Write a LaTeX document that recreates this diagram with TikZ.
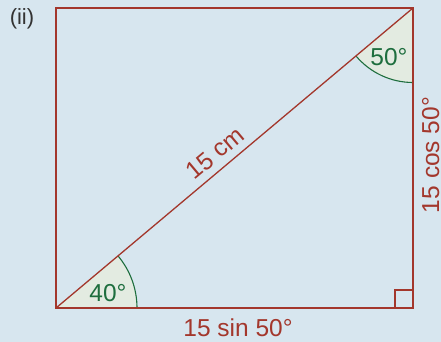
\documentclass[tikz,border=0pt]{standalone}
\usepackage{fontspec}
\setmainfont{Liberation Sans}
\definecolor{bg}{HTML}{D7E6EF}
\definecolor{linered}{HTML}{A3372C}
\definecolor{anggreen}{HTML}{1E6E3E}
\definecolor{angfill}{HTML}{E3EBE1}
\definecolor{labgray}{HTML}{333333}
\begin{document}
\begin{tikzpicture}[x=1pt,y=-1pt,
  edge/.style={draw=linered,line width=1.3pt},
  arcline/.style={draw=anggreen,line width=1.1pt},
  redlab/.style={text=linered,font=\fontsize{24.5}{28}\selectfont,inner sep=0pt},
  greenlab/.style={text=anggreen,font=\fontsize{24.5}{28}\selectfont,inner sep=0pt}]
\fill[bg] (0,0) rectangle (441,342);
\useasboundingbox (0,0) rectangle (441,342);
\coordinate (A) at (56,308);
\coordinate (B) at (413,308);
\coordinate (C) at (413,8);
\coordinate (D) at (56,8);
% angle fills
\fill[angfill] (A) -- ++(81,0) arc[start angle=0,end angle=-40.04,radius=81] -- cycle;
\draw[arcline] (A) ++(81,0) arc[start angle=0,end angle=-40.04,radius=81];
\fill[angfill] (C) -- ++(0,74.5) arc[start angle=90,end angle=139.96,radius=74.5] -- cycle;
\draw[arcline] (C) ++(0,74.5) arc[start angle=90,end angle=139.96,radius=74.5];
% rectangle and diagonal
\draw[edge] (A) -- (B) -- (C) -- (D) -- cycle;
\draw[edge] (A) -- (C);
\draw[edge] (395,308) -- (395,290) -- (413,290);
% labels
\node[text=labgray,font=\fontsize{22}{26}\selectfont,inner sep=0pt] (ii) at (22,19) {(ii)};
\node[greenlab] (a50) at (389,57) {50°};
\node[greenlab] (a40) at (108,293) {40°};
\node[redlab,rotate=40.04] (hyp) at (215,153) {15 cm};
\node[redlab] (bot) at (238,328) {15 sin 50°};
\node[redlab,rotate=90,text depth=0pt] (side) at (430.5,155) {15 cos 50°};
\end{tikzpicture}
\end{document}
